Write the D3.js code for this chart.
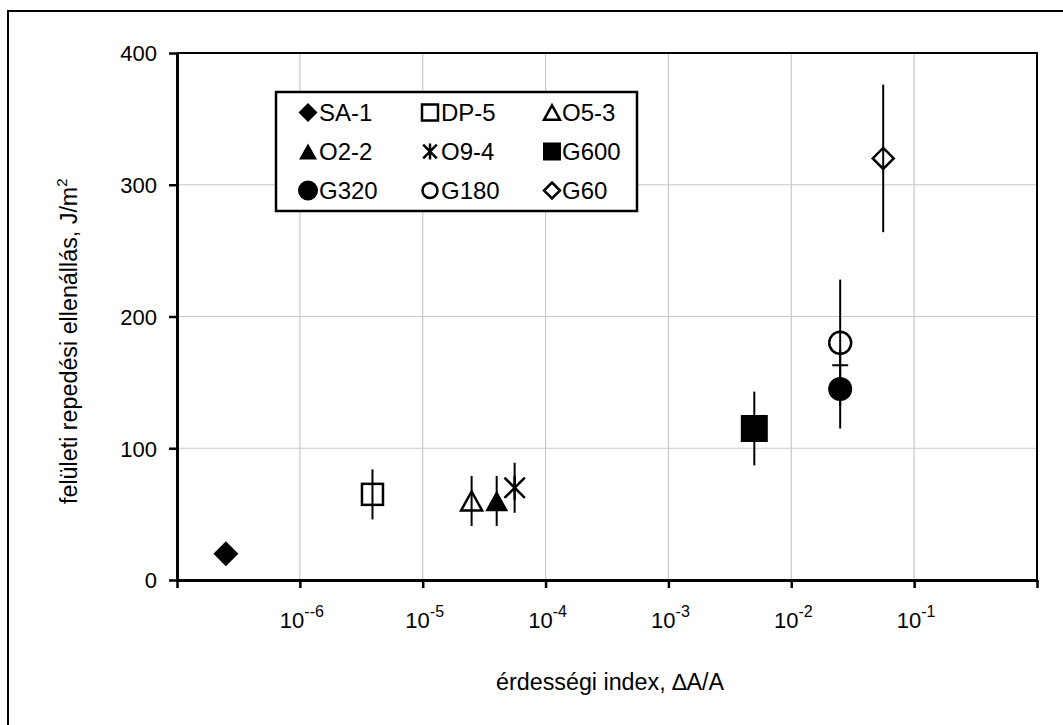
<!DOCTYPE html>
<html><head><meta charset="utf-8">
<script src="https://cdn.jsdelivr.net/npm/d3@7"></script>
<style>body{margin:0;background:#fff}svg{display:block;font-family:"Liberation Sans",Arial,sans-serif}</style>
</head><body>
<svg id="c" width="1063" height="725"></svg>
<script>
// ---- data ----
const names  = ["SA-1","DP-5","O5-3","O2-2","O9-4","G600","G320","G180","G60"];
const xVals  = [2.5e-7, 3.9e-6, 2.5e-5, 4.0e-5, 5.6e-5, 5.0e-3, 2.5e-2, 2.5e-2, 5.6e-2];
const yVals  = [20, 65, 60, 60, 70, 115, 145, 180, 320];
const errs   = [0, 19, 19, 19, 19, 28, 30, 48, 56];
const shapes = ["diamond","square","triangle","triangle","star","square","circle","circle","diamond"];
const filled = [true,false,false,true,false,true,true,false,false];
const dashMarks = [{x:2.5e-2, y:163}];
const xTicks = [1e-7,1e-6,1e-5,1e-4,1e-3,1e-2,1e-1,1];
const xTickLabels = [null,"--6","-5","-4","-3","-2","-1",null];
const yTicks = [0,100,200,300,400];
const legendOrder = ["SA-1","DP-5","O5-3","O2-2","O9-4","G600","G320","G180","G60"];

const svg = d3.select("#c");
const L=177, R=1037, T=53, B=580;
const x = d3.scaleLog().domain([1e-7,1]).range([L,R]);
const y = d3.scaleLinear().domain([0,400]).range([B,T]);

// outer frame (extends past the picture on right/bottom)
svg.append("rect").attr("x",8).attr("y",11).attr("width",1100).attr("height",760)
  .attr("fill","none").attr("stroke","#000").attr("stroke-width",2);

// grid
svg.append("g").selectAll("line").data(xTicks.slice(1,-1)).join("line")
  .attr("x1",d=>x(d)).attr("x2",d=>x(d)).attr("y1",T).attr("y2",B)
  .attr("stroke","#c8c8c8").attr("stroke-width",1.2);
svg.append("g").selectAll("line").data(yTicks.slice(1,-1)).join("line")
  .attr("x1",L).attr("x2",R).attr("y1",d=>y(d)).attr("y2",d=>y(d))
  .attr("stroke","#c8c8c8").attr("stroke-width",1.2);

// plot border top/right
svg.append("path").attr("d",`M${L},${T}H${R}V${B}`).attr("fill","none").attr("stroke","#000").attr("stroke-width",2);

// axes
const xAxis = d3.axisBottom(x).tickValues(xTicks).tickFormat("").tickSizeInner(8).tickSizeOuter(0);
const gx = svg.append("g").attr("transform",`translate(0,${B})`).call(xAxis);
gx.select(".domain").attr("stroke-width",3);
gx.selectAll(".tick line").attr("stroke-width",2.5);
const yAxis = d3.axisLeft(y).tickValues(yTicks).tickSizeInner(8).tickSizeOuter(0).tickPadding(12);
const gy = svg.append("g").attr("transform",`translate(${L},0)`).call(yAxis);
gy.select(".domain").attr("stroke-width",3);
gy.selectAll(".tick line").attr("stroke-width",2.5);
gy.selectAll(".tick text").attr("font-size",22).attr("font-family","Liberation Sans, Arial").attr("fill","#000").attr("dy","0.36em");

// x tick labels 10^n
xTicks.forEach((d,i)=>{
  if(!xTickLabels[i]) return;
  const t = svg.append("text").attr("x",x(d)+2).attr("y",628).attr("text-anchor","middle")
    .attr("font-size",22).attr("fill","#000");
  t.append("tspan").text("10");
  t.append("tspan").attr("dy",-11).attr("font-size",16).text(xTickLabels[i]);
});

// axis titles
svg.append("text").attr("x",496).attr("y",690).attr("font-size",23.3).attr("fill","#000")
  .text("érdességi index, ∆A/A");
const yl = svg.append("text").attr("transform","translate(77,504) rotate(-90)")
  .attr("font-size",23.3).attr("fill","#000");
yl.append("tspan").text("felületi repedési ellenállás, J/m");
yl.append("tspan").attr("dy",-10).attr("font-size",15).text("2");

// marker drawing
function drawMarker(g, shape, fill, s){
  let el;
  if(shape==="diamond"){
    el = g.append("path").attr("d",`M0,${-s/2}L${s/2},0L0,${s/2}L${-s/2},0Z`);
  } else if(shape==="square"){
    el = g.append("rect").attr("x",-s/2).attr("y",-s/2).attr("width",s).attr("height",s);
  } else if(shape==="triangle"){
    const h = s*0.9;
    el = g.append("path").attr("d",`M0,${-h/2}L${s/2},${h/2}L${-s/2},${h/2}Z`);
  } else if(shape==="circle"){
    el = g.append("circle").attr("r",s/2);
  } else if(shape==="star"){
    const a=s/2;
    el = g.append("path").attr("d",`M${-a*0.85},${-a*0.85}L${a*0.85},${a*0.85}M${a*0.85},${-a*0.85}L${-a*0.85},${a*0.85}M0,${-a}L0,${a}`)
      .attr("fill","none").attr("stroke","#000").attr("stroke-width",2.5);
    return el;
  }
  if(fill){ el.attr("fill","#000").attr("stroke","none"); }
  else { el.attr("fill","none").attr("stroke","#000").attr("stroke-width",2.5); }
  return el;
}

const plotSizes = {"SA-1":25,"DP-5":21,"O5-3":21,"O2-2":23,"O9-4":24,"G600":27,"G320":24,"G180":22,"G60":21};

// points
names.forEach((n,i)=>{
  const g = svg.append("g").attr("transform",`translate(${x(xVals[i])},${y(yVals[i])})`);
  drawMarker(g, shapes[i], filled[i], plotSizes[n]);
});
// error bars (drawn over markers)
names.forEach((n,i)=>{
  if(!errs[i]) return;
  svg.append("line").attr("x1",x(xVals[i])).attr("x2",x(xVals[i]))
    .attr("y1",y(yVals[i]+errs[i])).attr("y2",y(yVals[i]-errs[i]))
    .attr("stroke","#000").attr("stroke-width",2);
});
dashMarks.forEach(d=>{
  svg.append("line").attr("x1",x(d.x)-8).attr("x2",x(d.x)+8).attr("y1",y(d.y)).attr("y2",y(d.y))
    .attr("stroke","#000").attr("stroke-width",2);
});

// legend
svg.append("rect").attr("x",276).attr("y",92).attr("width",361).attr("height",119)
  .attr("fill","#fff").attr("stroke","#000").attr("stroke-width",2.5);
const colMk=[308,430,552], colTx=[319,441,562], rowBase=[121,160,199];
const legSizes = {"SA-1":19,"DP-5":16,"O5-3":16,"O2-2":18,"O9-4":16,"G600":18,"G320":20,"G180":15,"G60":16};
legendOrder.forEach((n,k)=>{
  const i = names.indexOf(n);
  const c = k%3, r = Math.floor(k/3);
  const g = svg.append("g").attr("transform",`translate(${colMk[c]},${rowBase[r]-8.5})`);
  drawMarker(g, shapes[i], filled[i], legSizes[n]);
  svg.append("text").attr("x",colTx[c]).attr("y",rowBase[r]).attr("font-size",24).attr("fill","#000").text(n);
});
</script>
</body></html>
